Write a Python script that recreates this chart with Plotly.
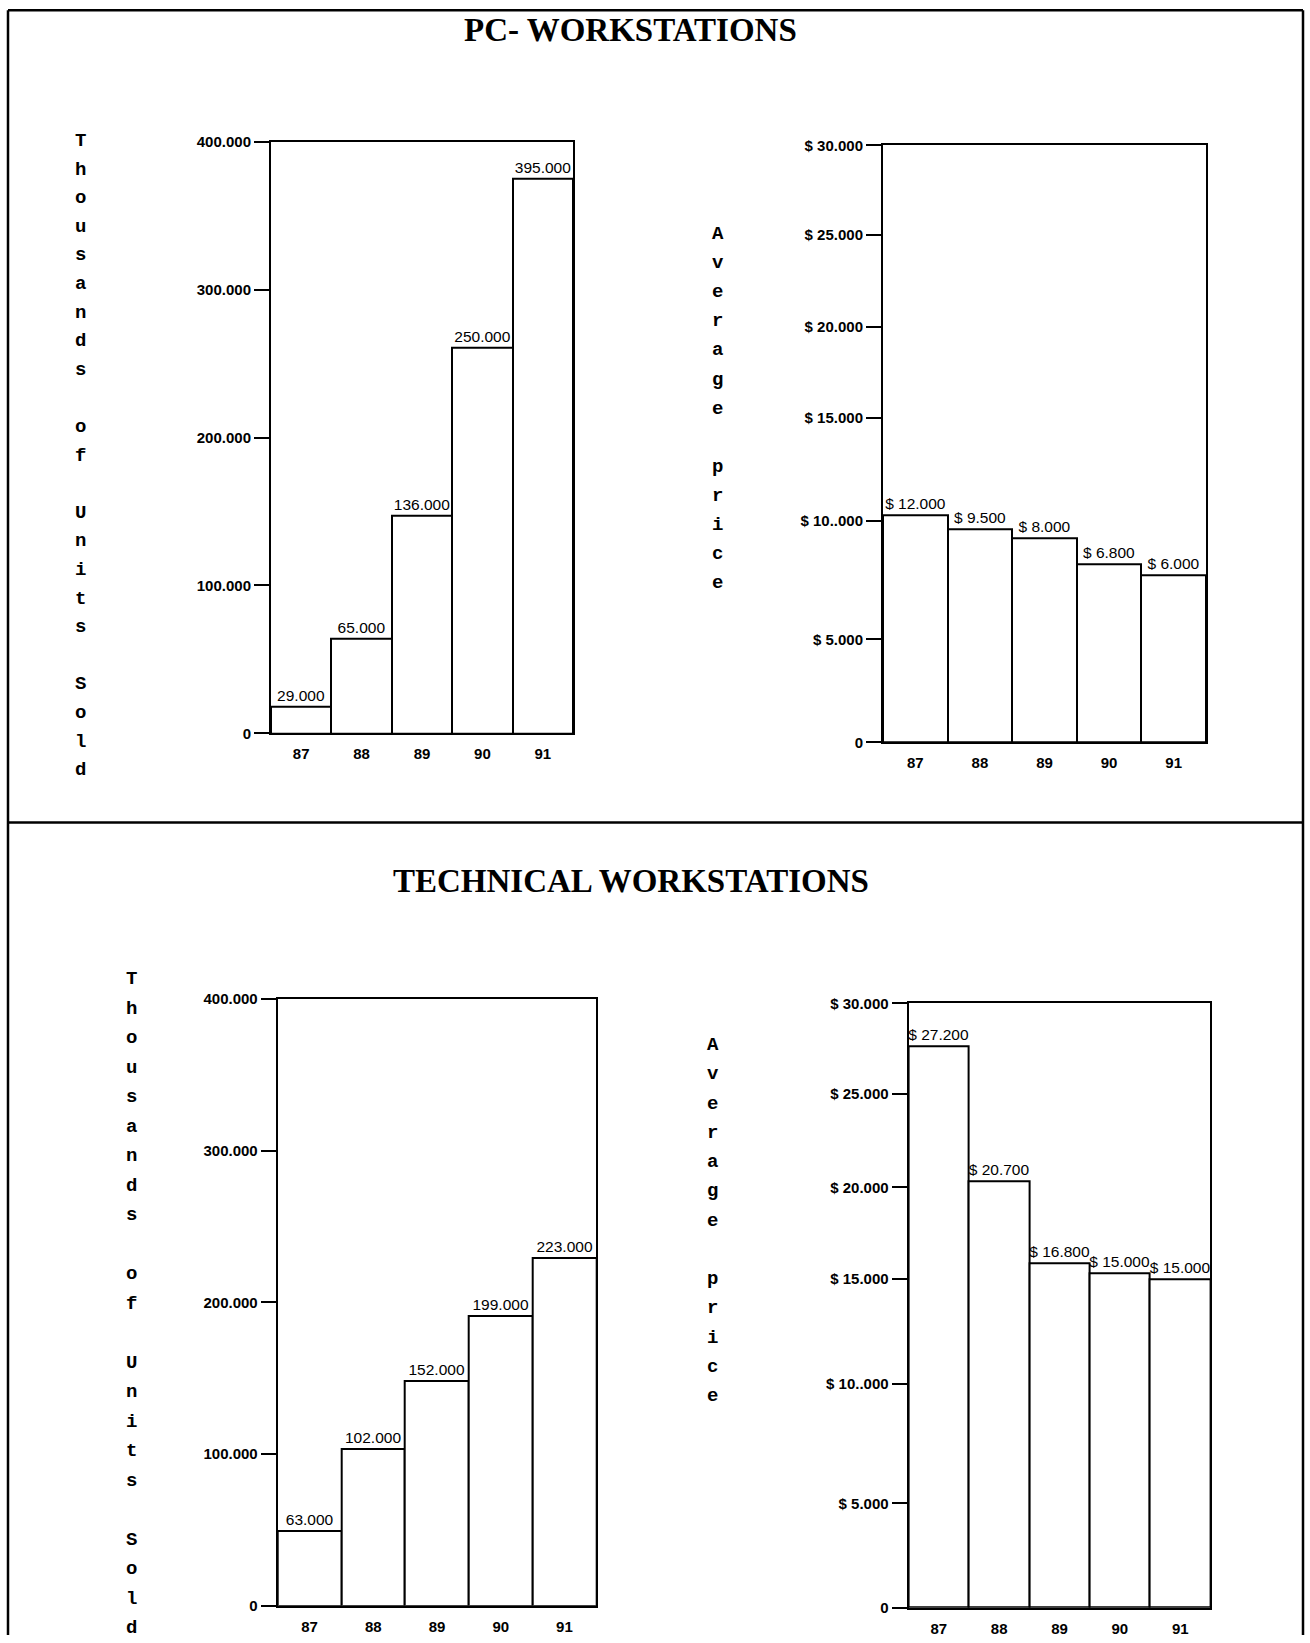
import plotly.graph_objects as go

# ---------------- data ----------------
years = ["87", "88", "89", "90", "91"]

# bar heights as drawn on each axis scale
pc_units = [18000, 64000, 147500, 260700, 375000]
pc_units_labels = ["29.000", "65.000", "136.000", "250.000", "395.000"]

pc_price = [11420, 10690, 10260, 8940, 8380]
pc_price_labels = ["$ 12.000", "$ 9.500", "$ 8.000", "$ 6.800", "$ 6.000"]

tech_units = [49300, 103300, 147800, 191000, 229400]
tech_units_labels = ["63.000", "102.000", "152.000", "199.000", "223.000"]

tech_price = [27860, 21160, 17100, 16590, 16320]
tech_price_labels = ["$ 27.200", "$ 20.700", "$ 16.800", "$ 15.000", "$ 15.000"]

units_tickvals = [0, 100000, 200000, 300000, 400000]
units_ticktext = ["0", "100.000", "200.000", "300.000", "400.000"]

# tick marks of the price axes as they sit on the drawn scale
price_tickvals = [0, 5180, 11130, 16320, 20870, 25510, 30000]
price_ticktext = ["0", "$ 5.000", "$ 10..000", "$ 15.000", "$ 20.000", "$ 25.000", "$ 30.000"]

titles = ["PC- WORKSTATIONS", "TECHNICAL WORKSTATIONS"]
units_title = "Thousands of Units Sold"
price_title = "Average price"

# ---------------- layout helpers ----------------
W, H = 1310, 1643
SANS = "Liberation Sans, Arial, sans-serif"
MONO = "Liberation Mono, Courier New, monospace"
SERIF = "Liberation Serif, Times New Roman, serif"

# vertical mapping between target picture rows and page rows
V_OFF, V_SCALE = 8.3, 0.99


def px_y(y):
    page = max(0.0, (y - V_OFF) / V_SCALE)
    return 1 - page / H


def xd(a, b):
    return [a / W, b / W]


def yd(bottom, top):
    return [px_y(bottom), px_y(top)]


panels = [
    # (values, labels, tickvals, ticktext, yrange, xdomain, ydomain)
    (pc_units, pc_units_labels, units_tickvals, units_ticktext, [0, 400000], xd(271, 573), yd(733, 141)),
    (pc_price, pc_price_labels, price_tickvals, price_ticktext, [0, 30000], xd(883, 1206), yd(742, 144.6)),
    (tech_units, tech_units_labels, units_tickvals, units_ticktext, [0, 400000], xd(277.7, 596.3), yd(1605.5, 998.7)),
    (tech_price, tech_price_labels, price_tickvals, price_ticktext, [0, 30000], xd(908.6, 1210.4), yd(1607.6, 1003)),
]

fig = go.Figure()
layout = {}
for i, (vals, labs, tv, tt, yr, xdom, ydom) in enumerate(panels, start=1):
    xa = "x" if i == 1 else f"x{i}"
    ya = "y" if i == 1 else f"y{i}"
    fig.add_trace(go.Bar(
        x=years, y=vals, text=labs, texttemplate="%{text}",
        textposition="outside", constraintext="none", cliponaxis=False,
        textfont=dict(family=SANS, size=15.5, color="black"),
        marker=dict(color="white", line=dict(color="black", width=2)),
        xaxis=xa, yaxis=ya, showlegend=False, hoverinfo="skip",
    ))
    layout["xaxis" if i == 1 else f"xaxis{i}"] = dict(
        domain=xdom, anchor=ya, type="category", range=[-0.5, 4.5],
        showline=True, mirror=True, linecolor="black", linewidth=2,
        showgrid=False, zeroline=False, ticks="", ticklabelstandoff=6,
        tickfont=dict(family=SANS, size=15, color="black", weight="bold"),
        fixedrange=True,
    )
    layout["yaxis" if i == 1 else f"yaxis{i}"] = dict(
        domain=ydom, anchor=xa, range=yr,
        tickmode="array", tickvals=tv, ticktext=tt,
        showline=True, mirror=True, linecolor="black", linewidth=2,
        showgrid=False, zeroline=False, ticks="outside", ticklen=15,
        tickwidth=2, tickcolor="black",
        tickfont=dict(family=SANS, size=15, color="black", weight="bold"),
        fixedrange=True,
    )


def stacked(text, glyph_px):
    lines = []
    for ch in text:
        c = ch if ch != " " else "\u00a0"
        lines.append(f"<span style='font-size:{glyph_px}px'>{c}</span>")
    return "<br>".join(lines)


annotations = [
    dict(text=f"<b>{titles[0]}</b>", x=630 / W, y=px_y(29), xref="paper", yref="paper",
         showarrow=False, xanchor="center", yanchor="middle",
         font=dict(family=SERIF, size=33, color="black")),
    dict(text=f"<b>{titles[1]}</b>", x=631 / W, y=px_y(881), xref="paper", yref="paper",
         showarrow=False, xanchor="center", yanchor="middle",
         font=dict(family=SERIF, size=33, color="black")),
]
for title, xc, ymid, spacing_font in [
    (units_title, 80, 455, 22.0),
    (price_title, 718, 407.5, 22.4),
    (units_title, 131, 1303.5, 22.7),
    (price_title, 713, 1220, 22.5),
]:
    annotations.append(dict(
        text=stacked(title, 19), x=xc / W, y=px_y(ymid), xref="paper", yref="paper",
        showarrow=False, xanchor="center", yanchor="middle",
        font=dict(family=MONO, size=spacing_font, color="black", weight="bold"),
    ))

frame = dict(type="line", xref="paper", yref="paper", line=dict(color="black", width=2.5))
top_line = 1 - 1.25 / H
shapes = [
    dict(frame, x0=8 / W, x1=8 / W, y0=top_line, y1=0),
    dict(frame, x0=1303 / W, x1=1303 / W, y0=top_line, y1=0),
    dict(frame, x0=8 / W, x1=1303 / W, y0=top_line, y1=top_line),
    dict(frame, x0=8 / W, x1=1303 / W, y0=px_y(822), y1=px_y(822)),
]

fig.update_layout(
    width=W, height=H, margin=dict(l=0, r=0, t=0, b=0),
    paper_bgcolor="white", plot_bgcolor="white",
    bargap=0, annotations=annotations, shapes=shapes,
    **layout,
)

page_fix = (
    "document.body.style.margin='0';"
    "document.body.style.overflow='hidden';"
)

fig.write_html(
    "out.html",
    config={"displayModeBar": False},
    post_script=page_fix,
)
